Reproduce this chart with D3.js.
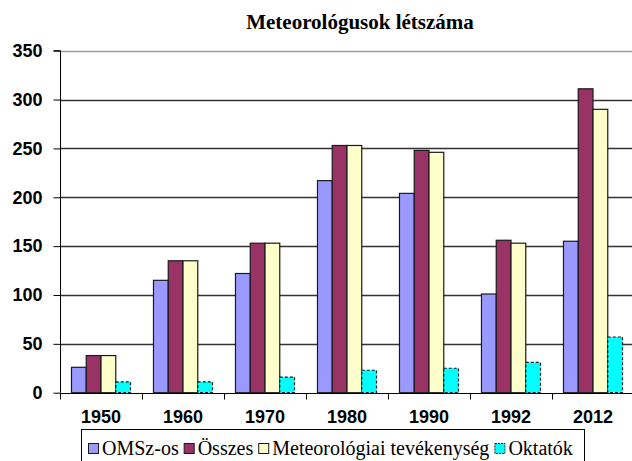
<!DOCTYPE html>
<html>
<head>
<meta charset="utf-8">
<script src="https://cdn.jsdelivr.net/npm/d3@7"></script>
<style>
  body { margin: 0; background: #fff; }
  svg { display: block; }
</style>
</head>
<body>
<div id="chart"></div>
<script>
let w = 632;
let h = 461;

// data
let years = ["1950", "1960", "1970", "1980", "1990", "1992", "2012"];
let seriesNames = ["OMSz-os", "Összes", "Meteorológiai tevékenység", "Oktatók"];
let omsz = [26, 115, 122, 217, 204, 101, 155];
let osszes = [38, 135, 153, 253, 248, 156, 311];
let meteo = [38, 135, 153, 253, 246, 153, 290];
let oktatok = [11, 11, 16, 23, 25, 31, 57];
let yTicks = [0, 50, 100, 150, 200, 250, 300, 350];

let colors = ["#9999ff", "#993366", "#ffffcc", "#00ffff"];
let allSeries = [omsz, osszes, meteo, oktatok];

let plot = {left: 60, right: 634, top: 50.7, bottom: 392.7};

let svg = d3.select("#chart")
  .append("svg")
  .attr("width", w)
  .attr("height", h)
  .style("background-color", "white");

let x0 = d3.scaleBand()
  .domain(years)
  .range([plot.left, plot.right])
  .paddingInner(0.28)
  .paddingOuter(0.14);

let x1 = d3.scaleBand()
  .domain(seriesNames)
  .range([0, x0.bandwidth()]);

let y = d3.scaleLinear()
  .domain([0, 350])
  .range([plot.bottom, plot.top]);

// title
svg.append("text")
  .attr("x", 360)
  .attr("y", 29)
  .attr("text-anchor", "middle")
  .style("font-family", "'Liberation Serif', 'DejaVu Serif', serif")
  .style("font-weight", "bold")
  .style("font-size", "21px")
  .attr("fill", "#000")
  .text("Meteorológusok létszáma");

// gridlines
svg.append("g")
  .selectAll("line")
  .data(yTicks.filter(d => d > 0))
  .enter()
  .append("line")
  .attr("x1", plot.left)
  .attr("x2", w)
  .attr("y1", d => Math.round(y(d)) + 0.5)
  .attr("y2", d => Math.round(y(d)) + 0.5)
  .attr("stroke", d => d === 350 ? "#9a9a9a" : "#333")
  .attr("stroke-width", 1.3);

// bars
let rows = years.map((yr, i) => ({year: yr, values: allSeries.map((s, j) => ({name: seriesNames[j], value: s[i], k: j}))}));

let groups = svg.append("g")
  .selectAll("g")
  .data(rows)
  .enter()
  .append("g")
  .attr("transform", d => "translate(" + x0(d.year) + ",0)");

groups.selectAll("rect")
  .data(d => d.values)
  .enter()
  .append("rect")
  .attr("x", d => x1(d.name))
  .attr("y", d => y(d.value))
  .attr("width", x1.bandwidth())
  .attr("height", d => y(0) - y(d.value))
  .attr("fill", d => colors[d.k])
  .attr("stroke", "#1a1a1a")
  .attr("stroke-width", 1.2)
  .attr("stroke-dasharray", d => d.k === 3 ? "3,2" : null);

// y axis
let yAxis = d3.axisLeft(y)
  .tickValues(yTicks)
  .tickSize(7)
  .tickPadding(11);

let yAxisGroup = svg.append("g")
  .attr("transform", "translate(" + (plot.left + 0.5) + ",0)")
  .call(yAxis);
yAxisGroup.select(".domain").attr("stroke", "#000").attr("d", "M-7," + plot.top + "H0V" + plot.bottom);
yAxisGroup.selectAll("line").attr("stroke", "#000");
yAxisGroup.selectAll("text")
  .style("font-family", "'Liberation Sans', Arial, sans-serif")
  .style("font-weight", "bold")
  .style("font-size", "18px")
  .attr("fill", "#000");

// x axis (labels centred, ticks at band edges)
let xAxis = d3.axisBottom(x0)
  .tickSize(0)
  .tickPadding(17);

let xAxisGroup = svg.append("g")
  .attr("transform", "translate(0," + (Math.round(plot.bottom) + 0.5) + ")")
  .call(xAxis);
xAxisGroup.select(".domain").attr("stroke", "#000").attr("d", "M" + plot.left + ",0H" + w);
xAxisGroup.selectAll("text")
  .style("font-family", "'Liberation Sans', Arial, sans-serif")
  .style("font-weight", "bold")
  .style("font-size", "18px")
  .attr("fill", "#000");

let step = x0.step();
let edges = d3.range(years.length + 1).map(i => plot.left + i * step);
xAxisGroup.selectAll(".edge")
  .data(edges)
  .enter()
  .append("line")
  .attr("class", "edge")
  .attr("x1", d => Math.round(d) + 0.5)
  .attr("x2", d => Math.round(d) + 0.5)
  .attr("y1", 0)
  .attr("y2", 6)
  .attr("stroke", "#000");

// legend
let legend = svg.append("g");
legend.append("rect")
  .attr("x", 81.5)
  .attr("y", 429.5)
  .attr("width", 503)
  .attr("height", 40)
  .attr("fill", "white")
  .attr("stroke", "#000");

let lx = 88;
seriesNames.forEach((name, i) => {
  legend.append("rect")
    .attr("x", lx + 0.5)
    .attr("y", 443.5)
    .attr("width", 10)
    .attr("height", 10)
    .attr("fill", colors[i])
    .attr("stroke", "#1a1a1a")
    .attr("stroke-dasharray", i === 3 ? "2,1" : null);
  let t = legend.append("text")
    .attr("x", lx + 14)
    .attr("y", 455)
    .attr("font-family", "Liberation Serif, DejaVu Serif, serif")
    .attr("font-size", 20)
    .attr("fill", "#000")
    .text(name);
  lx += 14 + t.node().getComputedTextLength() + 5;
});
</script>
</body>
</html>
